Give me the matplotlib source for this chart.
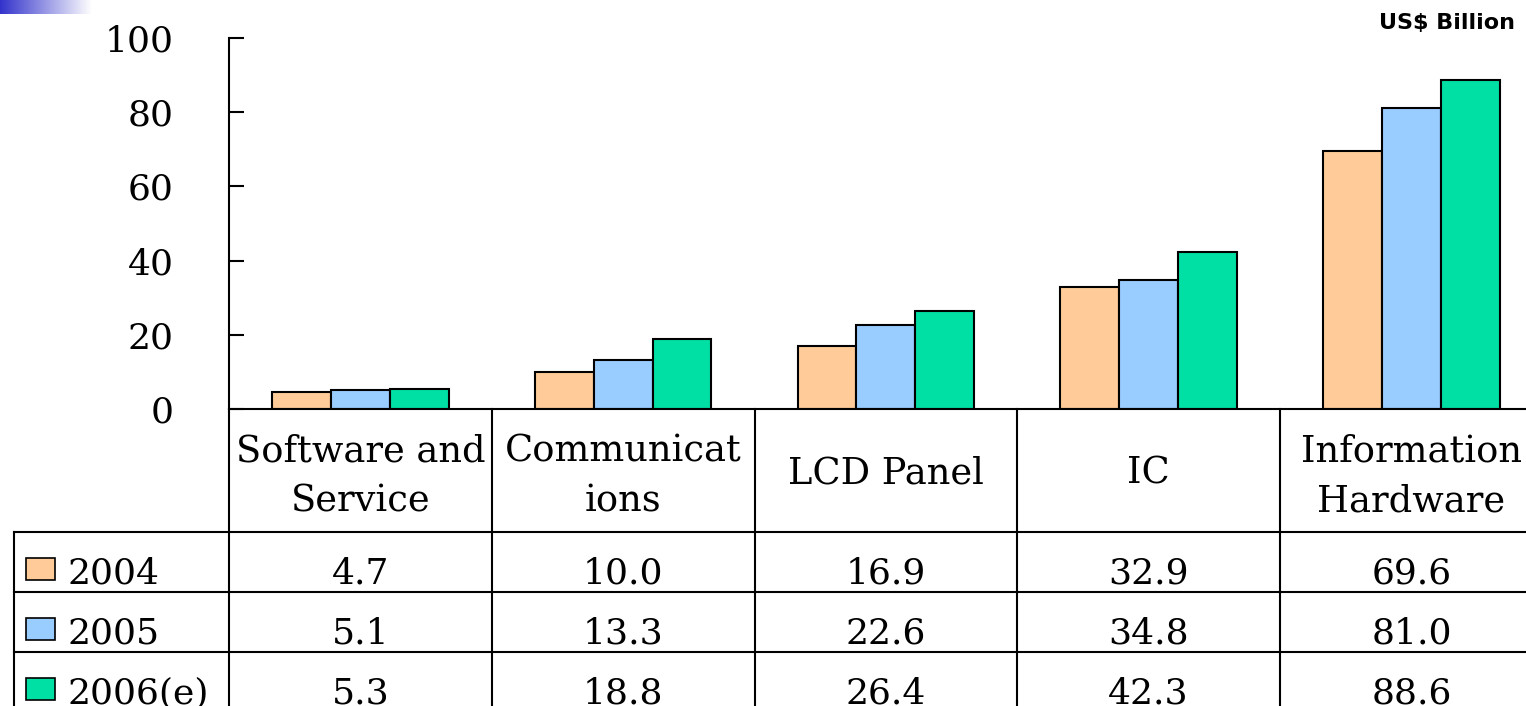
import numpy as np
import matplotlib
matplotlib.use("Agg")
import matplotlib.pyplot as plt
from matplotlib.patches import Rectangle

categories = ["Software and\nService", "Communicat\nions", "LCD Panel", "IC", "Information\nHardware"]
years = ["2004", "2005", "2006(e)"]
v2004 = [4.7, 10.0, 16.9, 32.9, 69.6]
v2005 = [5.1, 13.3, 22.6, 34.8, 81.0]
v2006 = [5.3, 18.8, 26.4, 42.3, 88.6]
series = [v2004, v2005, v2006]
colors = ["#FFCC99", "#99CCFF", "#00E0A4"]
yticks = [0, 20, 40, 60, 80, 100]
unit_label = "US$ Billion"

W, H = 1526, 706
fig = plt.figure(figsize=(W / 100, H / 100), dpi=100)
serif = "DejaVu Serif"

# pixel geometry
x_left, x_unit = 229, 262.75
y_top, y_zero = 38, 409
n = len(categories)
x_right = x_left + n * x_unit

ax = fig.add_axes([x_left / W, (H - y_zero) / H, (x_right - x_left) / W, (y_zero - y_top) / H])
ax.set_xlim(-0.5, n - 0.5)
ax.set_ylim(0, 100)
bw = 0.224
x = np.arange(n)
for k, (vals, c) in enumerate(zip(series, colors)):
    ax.bar(x + (k - 1) * bw, vals, width=bw, color=c, edgecolor="black", linewidth=1.5, zorder=3)
for s in ["top", "right", "bottom"]:
    ax.spines[s].set_visible(False)
ax.spines["left"].set_linewidth(1.5)
ax.set_xticks([])
ax.set_yticks(yticks)
ax.set_yticklabels([str(t) for t in yticks], fontsize=26, family=serif)
ax.tick_params(axis="y", direction="in", length=11, width=1.5, pad=40)
ax.patch.set_alpha(0)

# table axes (pixel coordinates in y, category units in x)
x_tab_left = 14
tab = fig.add_axes([0, 0, 1, 1])
tab.set_xlim(-0.5 - x_left / x_unit, -0.5 + (W - x_left) / x_unit)
tab.set_ylim(H, 0)
tab.axis("off")
tab.patch.set_alpha(0)
xl = -0.5 - (x_left - x_tab_left) / x_unit
lw = 1.5
rows = [409, 532, 592, 652, 712]
tab.plot([-0.5, n - 0.5], [rows[0], rows[0]], color="black", lw=lw)
for r in rows[1:4]:
    tab.plot([xl, n - 0.5], [r, r], color="black", lw=lw)
for i in range(n + 1):
    tab.plot([i - 0.5, i - 0.5], [rows[0], H + 10], color="black", lw=lw)
tab.plot([xl, xl], [rows[1], H + 10], color="black", lw=lw)

for i, cat in enumerate(categories):
    lines = cat.split("\n")
    if len(lines) == 2:
        tab.text(i, 462, lines[0], ha="center", va="baseline", fontsize=26.5, family=serif)
        tab.text(i, 511, lines[1], ha="center", va="baseline", fontsize=26.5, family=serif)
    else:
        tab.text(i, 474, cat, ha="center", va="center", fontsize=26.5, family=serif)

for k, (yr, vals, c) in enumerate(zip(years, series, colors)):
    top = rows[k + 1]
    tab.add_patch(Rectangle((xl + 12 / x_unit, top + 26), 29 / x_unit, 22, facecolor=c,
                            edgecolor="black", lw=1.2))
    tab.text(xl + 54 / x_unit, top + 51, yr, ha="left", va="baseline", fontsize=26, family=serif)
    for i, v in enumerate(vals):
        tab.text(i, top + 51, f"{v:.1f}", ha="center", va="baseline", fontsize=26, family=serif)

# unit label
fig.text(1515 / W, 1 - 29 / H, unit_label, ha="right", va="baseline", fontsize=16,
         fontweight="bold", family="DejaVu Sans")

# decorative gradient bar
gax = fig.add_axes([0, 1 - 14 / H, 92 / W, 14 / H])
grad = np.linspace(0, 1, 256)
start = np.array([0.2, 0.2, 0.8])
img = np.array([start + (1 - start) * g for g in grad])[None, :, :]
gax.imshow(img, aspect="auto", extent=[0, 1, 0, 1])
gax.axis("off")

fig.savefig("out.png", dpi=100)
